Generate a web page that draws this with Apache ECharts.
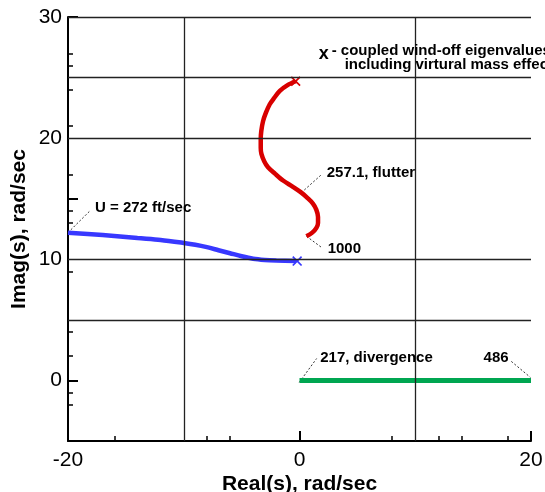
<!DOCTYPE html>
<html><head><meta charset="utf-8">
<script src="https://cdn.jsdelivr.net/npm/echarts@6/dist/echarts.min.js"></script>
<style>html,body{margin:0;padding:0;background:#fff}#c{width:545px;height:492px}</style>
</head><body><div id="c"></div>
<script>
// axis ticks / labels
const xLabels = [-20, 0, 20];
const xMajorTicks = [-20, 0, 20];
const xMinorTicks = [-16, -8, -6, 8, 12, 14, 18];
const yLabels = [0, 10, 20, 30];
const yMajorTicks = [0, 15, 30];
const yMinorTicks = [27, 26, 24, 21, 17, 14, 13, 9, 4, 2, -1, -2];
const hGrid = [5, 10, 20, 25, 30];
const vGrid = [-10, 10];

// root loci
const blueRe = [-20, -17, -14, -12, -10, -9, -8, -7, -6, -5, -4, -3, -2, -0.3];
const blueIm = [12.2, 12.0, 11.75, 11.6, 11.35, 11.2, 11.0, 10.75, 10.5, 10.25, 10.05, 9.95, 9.9, 9.85];
const redRe = [-0.33, -1.0, -1.7, -2.2, -2.57, -2.9, -3.15, -3.3, -3.35, -3.35, -3.29, -3.05, -2.72, -2.1, -1.42, -0.6, 0.16, 0.7, 1.16, 1.45, 1.6, 1.6, 1.46, 1.1, 0.6];
const redIm = [24.7, 24.4, 23.9, 23.3, 22.8, 22.1, 21.4, 20.6, 19.9, 19.2, 18.7, 18.1, 17.6, 17.05, 16.5, 16.0, 15.5, 15.05, 14.6, 14.1, 13.5, 13.0, 12.6, 12.2, 11.9];
const greenRe = [0, 20];
const greenIm = [0, 0];

// wind-off eigenvalue markers
const windOffRe = [-0.33, -0.2];
const windOffIm = [24.7, 9.85];
const windOffColor = ['#d80000', '#3838ff'];

// annotations
const annoText = ['U = 272 ft/sec', '257.1, flutter', '1000', '217, divergence', '486',
  '- coupled wind-off eigenvalues', 'including virtural mass effect'];
const annoRe = [-17.67, 2.35, 2.43, 1.79, 15.9, 2.78, 3.9];
const annoIm = [14.26, 17.15, 10.88, 1.9, 1.9, 27.2, 26.05];
const legendMarkRe = 2.09, legendMarkIm = 26.96;

// leader lines [re0, im0, re1, im1]
const leaders = [
  [-20, 12.2, -18.1, 14.0],
  [0.16, 15.5, 1.89, 16.98],
  [0.6, 11.9, 1.89, 10.99],
  [-0.02, -0.16, 1.48, 1.81],
  [18.3, 1.57, 19.95, 0.25]
];

const FONT = "'Liberation Sans', Arial, Helvetica, sans-serif";
const zip = (a, b) => a.map((v, i) => [v, b[i]]);
const xShape = 'path://M0,1.2L1.2,0L5,3.8L8.8,0L10,1.2L6.2,5L10,8.8L8.8,10L5,6.2L1.2,10L0,8.8L3.8,5Z';

const chart = echarts.init(document.getElementById('c'), null, {renderer: 'canvas'});

const baseX = {type: 'value', min: -20, max: 20, interval: 10, position: 'bottom', splitLine: {show: false}};
const baseY = {type: 'value', min: -5, max: 30, interval: 5, position: 'left', splitLine: {show: false}};

const series = [
  {
    type: 'line', data: [], silent: true, z: 1,
    markLine: {
      silent: true, symbol: 'none', animation: false,
      label: {show: false},
      lineStyle: {color: '#222', width: 1.3, type: 'solid'},
      data: hGrid.map(v => ({yAxis: v})).concat(vGrid.map(v => ({xAxis: v})))
    }
  },
  {type: 'line', data: zip(blueRe, blueIm), smooth: 0.3, showSymbol: false, z: 3,
    lineStyle: {color: '#3838ff', width: 4.5}},
  {type: 'line', data: zip(redRe, redIm), smooth: 0.3, showSymbol: false, z: 3,
    lineStyle: {color: '#d80000', width: 4.5}},
  {type: 'line', data: zip(greenRe, greenIm), showSymbol: false, z: 3,
    lineStyle: {color: '#00a651', width: 5}},
  {type: 'scatter', z: 4, symbol: xShape, symbolSize: 10, itemStyle: {opacity: 1},
    data: windOffRe.map((v, i) => ({value: [v, windOffIm[i]], itemStyle: {color: windOffColor[i], opacity: 1}}))},
  {type: 'scatter', z: 5, symbolSize: 0, silent: true, itemStyle: {opacity: 1},
    data: annoText.map((t, i) => ({value: [annoRe[i], annoIm[i]], name: t})),
    label: {show: true, position: [0, 0], align: 'left', verticalAlign: 'middle', opacity: 1,
      formatter: p => p.name, color: '#000', fontFamily: FONT, fontWeight: 'bold', fontSize: 15}},
  {type: 'scatter', z: 5, symbolSize: 0, silent: true, itemStyle: {opacity: 1},
    data: [{value: [legendMarkRe, legendMarkIm], name: 'x'}],
    label: {show: true, position: [0, 0], align: 'center', verticalAlign: 'middle', opacity: 1,
      formatter: 'x', color: '#000', fontFamily: FONT, fontWeight: 'bold', fontSize: 18}}
].concat(leaders.map(l => ({
  type: 'line', data: [[l[0], l[1]], [l[2], l[3]]], showSymbol: false, silent: true, z: 2,
  lineStyle: {color: '#333', width: 1, type: [2, 2]}
})));

chart.setOption({
  animation: false,
  backgroundColor: '#fff',
  grid: {left: 68, right: 14, top: 17, bottom: 51, containLabel: false, outerBoundsMode: 'none'},
  xAxis: [
    Object.assign({}, baseX, {
      name: 'Real(s), rad/sec', nameLocation: 'middle', nameGap: 33, nameMoveOverlap: false,
      nameTextStyle: {fontFamily: FONT, fontWeight: 'bold', fontSize: 21, color: '#000'},
      axisLine: {show: true, onZero: false, lineStyle: {color: '#000', width: 2}},
      axisTick: {show: true, inside: true, length: 10, customValues: xMajorTicks, lineStyle: {color: '#000', width: 2}},
      axisLabel: {show: true, customValues: xLabels, margin: 9, fontFamily: FONT, fontSize: 21, color: '#000'}
    }),
    Object.assign({}, baseX, {
      axisLine: {show: false, onZero: false},
      axisTick: {show: true, inside: true, length: 5, customValues: xMinorTicks, lineStyle: {color: '#000', width: 1.5}},
      axisLabel: {show: false}
    })
  ],
  yAxis: [
    Object.assign({}, baseY, {
      name: 'Imag(s), rad/sec', nameLocation: 'middle', nameGap: 38, nameRotate: 90, nameMoveOverlap: false,
      nameTextStyle: {fontFamily: FONT, fontWeight: 'bold', fontSize: 21, color: '#000'},
      axisLine: {show: true, onZero: false, lineStyle: {color: '#000', width: 2}},
      axisTick: {show: true, inside: true, length: 10, customValues: yMajorTicks, lineStyle: {color: '#000', width: 2}},
      axisLabel: {show: true, customValues: yLabels, margin: 6, fontFamily: FONT, fontSize: 21, color: '#000'}
    }),
    Object.assign({}, baseY, {
      axisLine: {show: false, onZero: false},
      axisTick: {show: true, inside: true, length: 5, customValues: yMinorTicks, lineStyle: {color: '#000', width: 1.5}},
      axisLabel: {show: false}
    })
  ],
  series: series
});
</script></body></html>
